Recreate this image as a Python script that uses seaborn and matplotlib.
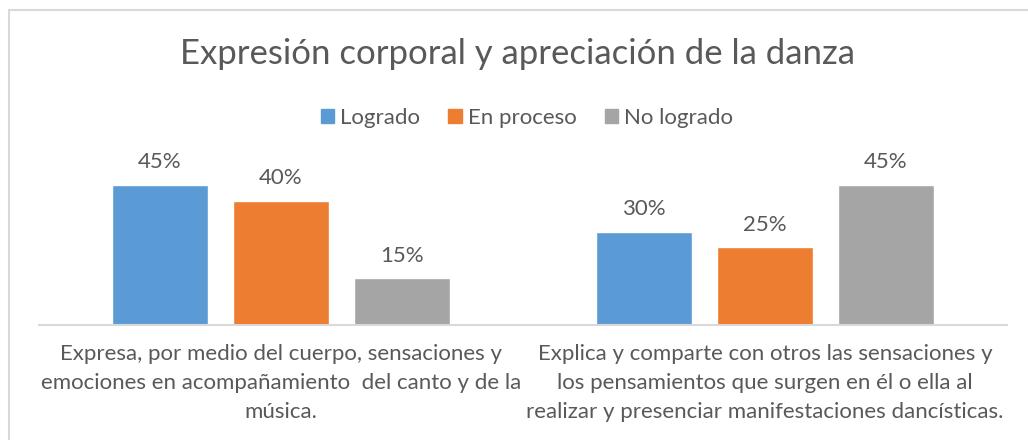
import matplotlib
matplotlib.use("Agg")
import matplotlib.pyplot as plt
import pandas as pd
import seaborn as sns
from matplotlib.patches import Rectangle

categories = [
    "Expresa, por medio del cuerpo, sensaciones y\nemociones en acompañamiento  del canto y de la\nmúsica.",
    "Explica y comparte con otros las sensaciones y\nlos pensamientos que surgen en él o ella al\nrealizar y presenciar manifestaciones dancísticas.",
]
series = ["Logrado", "En proceso", "No logrado"]
logrado = [45, 30]
en_proceso = [40, 25]
no_logrado = [15, 45]
colors = ["#5B9BD5", "#ED7D31", "#A5A5A5"]
title = "Expresión corporal y apreciación de la danza"

TEXT = "#595959"

rows = []
for s, vals in zip(series, [logrado, en_proceso, no_logrado]):
    for c, v in zip(categories, vals):
        rows.append({"categoria": c, "serie": s, "valor": v})
df = pd.DataFrame(rows)

sns.set_style("white")
plt.rcParams["font.family"] = ["Lato", "DejaVu Sans"]

fig = plt.figure(figsize=(10.28, 4.4), dpi=100)
ax = fig.add_axes([39 / 1028, 115 / 440, 968 / 1028, 155.6 / 440])

sns.barplot(data=df, x="categoria", y="valor", hue="serie", order=categories,
            hue_order=series, palette=colors, width=0.75, gap=0.2,
            saturation=1, ax=ax, legend=False)

ax.set_ylim(0, 50)
ax.set_xlim(-0.5, 1.5)
ax.set_xlabel("")
ax.set_ylabel("")
ax.set_yticks([])
for side in ["top", "right", "left"]:
    ax.spines[side].set_visible(False)
ax.spines["bottom"].set_color("#D9D9D9")
ax.spines["bottom"].set_linewidth(1.5)
ax.tick_params(axis="x", length=0, pad=14, labelsize=16, labelcolor=TEXT)
for lbl in ax.get_xticklabels():
    lbl.set_linespacing(1.55)

for cont in ax.containers:
    ax.bar_label(cont, labels=[f"{v:.0f}%" for v in cont.datavalues],
                 padding=9, fontsize=16, color=TEXT)

handles = [Rectangle((0, 0), 1, 1, color=c) for c in colors]
fig.legend(handles, series, loc="center", bbox_to_anchor=(527 / 1028, 1 - 118 / 440),
           ncol=3, frameon=False, fontsize=16, labelcolor=TEXT,
           handlelength=0.6, handleheight=0.6, handletextpad=0.27, columnspacing=1.26)

fig.text(518 / 1028, 1 - 54 / 440, title, ha="center", va="center",
         fontsize=25, color=TEXT)

fig.patches.append(Rectangle((9 / 1028, -0.1), 1.1, 1 - 10 / 440 + 0.1,
                             transform=fig.transFigure, fill=False,
                             edgecolor="#D9D9D9", linewidth=1.5))

fig.savefig("out.png", dpi=100, facecolor="white")
